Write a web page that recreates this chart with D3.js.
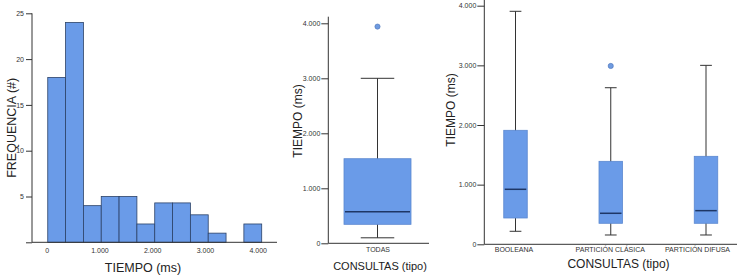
<!DOCTYPE html>
<html><head><meta charset="utf-8">
<script src="https://cdn.jsdelivr.net/npm/d3@7"></script>
<style>
body{margin:0;background:#fff;}
svg{display:block;font-family:"Liberation Sans",Arial,Helvetica,sans-serif;}
.tick text{fill:#333;}
</style></head>
<body><svg id="c" width="737" height="278"></svg>
<script>
// ---------- DATA ----------
const histBinStart = 20;
const histBinWidth = 338;
const histCounts = [18, 24, 4, 5, 5, 2, 4.3, 4.3, 3, 1, 0, 2];
const histXTicks = [0, 1000, 2000, 3000, 4000];
const histYTicks = [0, 5, 10, 15, 20, 25];

const allCategory = ["TODAS"];
const allStats = [{q1: 345, median: 575, q3: 1538, lo: 100, hi: 3000}];
const allOutliers = [[3940]];

const typeCategories = ["BOOLEANA", "PARTICIÓN CLÁSICA", "PARTICIÓN DIFUSA"];
const typeStats = [
  {q1: 441, median: 922, q3: 1911, lo: 218, hi: 3906},
  {q1: 352, median: 520, q3: 1391, lo: 156, hi: 2625},
  {q1: 352, median: 564, q3: 1475, lo: 156, hi: 3000}
];
const typeOutliers = [[], [2990], []];
const timeTicks = [0, 1000, 2000, 3000, 4000];

// ---------- SETUP ----------
const svg = d3.select("#c");
const loc = d3.formatLocale({decimal: ",", thousands: ".", grouping: [3], currency: ["", ""]});
const fmt = loc.format(",");
const axisColor = "#333";
const fillBlue = "#6a9be8";

function styleAxis(g, fs) {
  g.selectAll(".tick line").attr("stroke", axisColor);
  g.selectAll(".tick text").attr("font-size", fs).attr("fill", "#333");
  g.select(".domain").remove();
}

// ---------- HISTOGRAM ----------
{
  const x = d3.scaleLinear().domain([0, 4000]).range([46.7, 257.7]);
  const y = d3.scaleLinear().domain([0, 25]).range([242.3, 13.3]);
  const g = svg.append("g");
  const bins = histCounts.map((c, i) => ({x0: histBinStart + i * histBinWidth, x1: histBinStart + (i + 1) * histBinWidth, c}));
  g.selectAll("rect.bar").data(bins.filter(d => d.c > 0)).join("rect")
    .attr("x", d => x(d.x0)).attr("width", d => x(d.x1) - x(d.x0))
    .attr("y", d => y(d.c)).attr("height", d => y(0) - y(d.c))
    .attr("fill", fillBlue).attr("stroke", "#2c4268").attr("stroke-width", 0.8);
  const ya = g.append("g").attr("transform", `translate(32,0)`)
    .call(d3.axisLeft(y).tickValues(histYTicks).tickSize(6).tickPadding(2).tickFormat(d => d === 0 ? "" : d));
  styleAxis(ya, 7);
  const xa = g.append("g").attr("transform", `translate(0,${y(0)})`)
    .call(d3.axisBottom(x).tickValues(histXTicks).tickSize(0).tickPadding(6).tickFormat(fmt));
  styleAxis(xa, 7);
  g.append("line").attr("x1", 32).attr("x2", 32).attr("y1", y(25)).attr("y2", y(0)).attr("stroke", axisColor);
  g.append("line").attr("x1", 32).attr("x2", 277).attr("y1", y(0)).attr("y2", y(0)).attr("stroke", axisColor);
  g.append("text").attr("transform", `translate(15.5,${(y(0)+y(25))/2}) rotate(-90)`)
    .attr("text-anchor", "middle").attr("font-size", 12.5).attr("fill", "#222").text("FREQUENCIA (#)");
  g.append("text").attr("x", 143).attr("y", 272).attr("text-anchor", "middle")
    .attr("font-size", 12.5).attr("fill", "#222").text("TIEMPO (ms)");
}

// ---------- BOXPLOT helper ----------
function boxplot(opts) {
  const {cats, stats, outliers, x0, x1, y0, y4000, axisTop, xCenters, boxW, labelY, titleX, titleY, ylabX, ylabY, titleFs} = opts;
  const g = svg.append("g");
  const y = d3.scaleLinear().domain([0, 4000]).range([y0, y4000]);
  const x = d3.scalePoint().domain(cats).range(xCenters);
  const ya = g.append("g").attr("transform", `translate(${x0},0)`)
    .call(d3.axisLeft(y).tickValues(timeTicks).tickSize(7).tickPadding(1).tickFormat(fmt));
  styleAxis(ya, 7);
  g.append("line").attr("x1", x0).attr("x2", x0).attr("y1", axisTop).attr("y2", y0).attr("stroke", axisColor);
  g.append("line").attr("x1", x0).attr("x2", x1).attr("y1", y0).attr("y2", y0).attr("stroke", axisColor);
  const xa = g.append("g").attr("transform", `translate(0,${y0})`)
    .call(d3.axisBottom(x).tickSize(0).tickPadding(labelY).tickFormat(d => d));
  styleAxis(xa, 7);
  if (opts.labelShift) xa.selectAll(".tick text").attr("dx", (d, i) => opts.labelShift[i] || 0);
  const item = g.selectAll("g.item").data(cats.map((c, i) => ({c, s: stats[i], o: outliers[i]}))).join("g");
  item.append("line").attr("x1", d => x(d.c)).attr("x2", d => x(d.c))
    .attr("y1", d => y(d.s.hi)).attr("y2", d => y(d.s.lo)).attr("stroke", "#333").attr("stroke-width", 1);
  item.append("line").attr("x1", d => x(d.c) - boxW / 4).attr("x2", d => x(d.c) + boxW / 4)
    .attr("y1", d => y(d.s.hi)).attr("y2", d => y(d.s.hi)).attr("stroke", "#333");
  item.append("line").attr("x1", d => x(d.c) - boxW / 4).attr("x2", d => x(d.c) + boxW / 4)
    .attr("y1", d => y(d.s.lo)).attr("y2", d => y(d.s.lo)).attr("stroke", "#333");
  item.append("rect").attr("x", d => x(d.c) - boxW / 2).attr("width", boxW)
    .attr("y", d => y(d.s.q3)).attr("height", d => y(d.s.q1) - y(d.s.q3))
    .attr("fill", fillBlue).attr("stroke", "#5b88d0").attr("stroke-width", 0.8);
  item.append("line").attr("x1", d => x(d.c) - boxW / 2 + 1).attr("x2", d => x(d.c) + boxW / 2 - 1)
    .attr("y1", d => y(d.s.median)).attr("y2", d => y(d.s.median)).attr("stroke", "#1e3766").attr("stroke-width", 1.5);
  item.selectAll("circle").data(d => d.o.map(v => ({c: d.c, v}))).join("circle")
    .attr("cx", d => x(d.c)).attr("cy", d => y(d.v)).attr("r", 2.6)
    .attr("fill", "#6f9be0").attr("stroke", "#4a72b8").attr("stroke-width", 0.6);
  g.append("text").attr("transform", `translate(${ylabX},${ylabY}) rotate(-90)`)
    .attr("text-anchor", "middle").attr("font-size", 12).attr("fill", "#222").text("TIEMPO (ms)");
  g.append("text").attr("x", titleX).attr("y", titleY).attr("text-anchor", "middle")
    .attr("font-size", titleFs).attr("fill", "#222").text("CONSULTAS (tipo)");
}

boxplot({cats: allCategory, stats: allStats, outliers: allOutliers,
  x0: 328.3, x1: 429, y0: 243.3, y4000: 23.3, axisTop: 16.7,
  xCenters: [377.5, 377.5], boxW: 67, labelY: 4,
  titleX: 380, titleY: 269.5, ylabX: 301.5, ylabY: 121, titleFs: 11});

boxplot({cats: typeCategories, stats: typeStats, outliers: typeOutliers,
  x0: 484.3, x1: 737, y0: 244.3, y4000: 5.7, axisTop: 0,
  xCenters: [515.5, 706], boxW: 23.5, labelY: 3, labelShift: [-2, -1, -9],
  titleX: 618.5, titleY: 267.5, ylabX: 455, ylabY: 110, titleFs: 12});
</script></body></html>
